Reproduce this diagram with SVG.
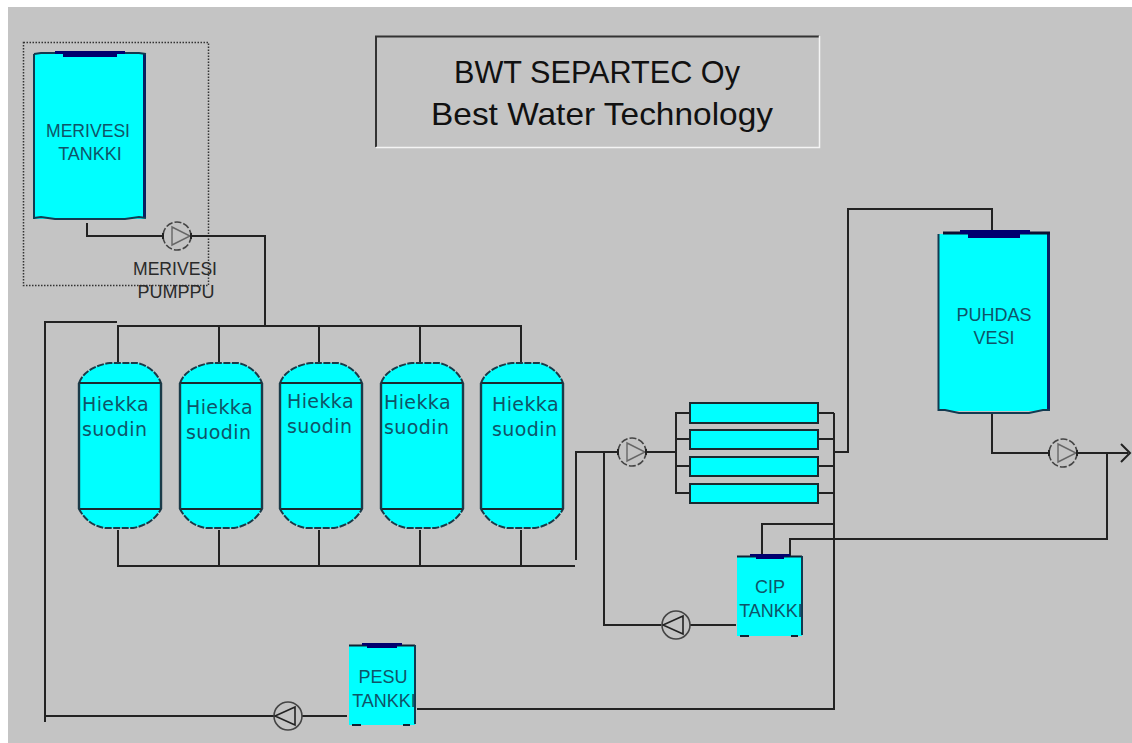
<svg xmlns="http://www.w3.org/2000/svg" xmlns:xlink="http://www.w3.org/1999/xlink" width="1132" height="743" viewBox="0 0 1132 743">
<style>
.bg{fill:#c4c4c4}
.pipe{fill:none;stroke:#222;stroke-width:2}
.tank{fill:#00ffff}
.wall{fill:none;stroke:#123a50;stroke-width:2}
.rw{fill:none;stroke:#0a1f60;stroke-width:3}
.cap{fill:#00006e}
.f{fill:#00ffff;stroke:#1a3a48;stroke-width:2}
.fl{fill:#00ffff;stroke:#1a2a30;stroke-width:2}
.t{font-family:"Liberation Sans",Arial,sans-serif;fill:#0f5468;font-size:18px;text-anchor:middle}
.h{font-family:"DejaVu Sans",Verdana,sans-serif;fill:#0f5468;font-size:19px;letter-spacing:.4px}
.d{font-family:"Liberation Sans",Arial,sans-serif;fill:#2a2a2a;font-size:18px;text-anchor:middle}
.title{font-family:"Liberation Sans",Arial,sans-serif;fill:#111;font-size:32px;text-anchor:middle}
.pc{fill:none;stroke:#444;stroke-width:1.6}
.pt{fill:none;stroke:#666;stroke-width:1.4}
.ptd{fill:none;stroke:#222;stroke-width:1.6}
</style>
<defs>
<g id="pr">
<circle class="pc" r="14" stroke-dasharray="7 2"/>
<path class="pt" d="M-5-9L13 0L-5 9Z"/>
<path d="M-14-3V3M14-3V3" stroke="#222" stroke-width="2"/>
</g>
<g id="pl">
<circle class="pc" r="14"/>
<path class="ptd" d="M7-9L-13 0L7 9Z"/>
</g>
<g id="filter">
<path class="f" stroke-dasharray="7 1.5" d="M0 20C4 9 16 2 31 0H58C68 2 78 9 82 20V146C76 157 66 163 54 165H26C14 163 6 157 0 146Z"/>
<path d="M0 20H82M0 146H82" stroke="#1a2a30" stroke-width="2"/>
<path d="M0 20V146M82 20V146" stroke="#1a3a48" stroke-width="2.4"/>
</g>
</defs>
<rect width="1132" height="743" fill="#fff"/>
<rect class="bg" x="8" y="7" width="1124" height="736"/>

<g id="title-box">
<path d="M376 147V36.500H819" fill="none" stroke="#333" stroke-width="2"/>
<path d="M819.500 36V147.500H376" fill="none" stroke="#f4f4f4" stroke-width="1.500"/>
<text class="title" x="597" y="83" textLength="286" lengthAdjust="spacingAndGlyphs">BWT SEPARTEC Oy</text>
<text class="title" x="602" y="125" textLength="342" lengthAdjust="spacingAndGlyphs">Best Water Technology</text>
</g>

<g id="selection-box">
<rect x="23.500" y="42.500" width="185" height="243" fill="none" stroke="#333" stroke-width="1.500" stroke-dasharray="1.500 1.500"/>
</g>

<g id="connectors">
<path class="pipe" d="M87 223V236H163M191 236H265V325"/>
<path class="pipe" d="M118 363V326H521V363M219 326V363M319 326V363M420 326V363"/>
<path class="pipe" d="M117 322H45V722"/>
<path class="pipe" d="M45 716H274M302 716H347"/>
<path class="pipe" d="M417 709H834V413"/>
<path class="pipe" d="M118 530V566H575M219 530V566M319 530V566M420 530V566M521 530V566"/>
<path class="pipe" d="M576 560V452H618M646 452H676"/>
<path class="pipe" d="M604 452V625H661M690 625H736"/>
<path class="pipe" d="M690 413H676V493H690M676 439H690M676 466H690"/>
<path class="pipe" d="M818 413H834M818 439H834M818 466H834M818 493H834"/>
<path class="pipe" d="M834 452H848V209H992V232"/>
<path class="pipe" d="M762 556V524H834"/>
<path class="pipe" d="M790 556V539H1107V453"/>
<path class="pipe" d="M992 414V453H1049M1077 453H1128"/>
<path class="pipe" d="M1121 444L1130 453L1121 462"/>
</g>

<g id="merivesi-tanki">
<rect class="tank" x="34" y="54" width="111" height="165"/>
<path class="wall" d="M34 219V54"/>
<path class="rw" d="M144.500 54V218"/>
<path class="wall" d="M34 218L41 217L55 219H125L139 217L146 218M34 54L41 53H139L146 54"/>
<path class="cap" d="M55 51H125V54H117V57H63V54H55Z"/>
<text class="t" x="88" y="137" textLength="84" lengthAdjust="spacingAndGlyphs">MERIVESI</text>
<text class="t" x="90" y="160">TANKKI</text>
</g>

<g id="merivesi-pumppu">
<use xlink:href="#pr" href="#pr" x="177" y="236"/>
<text class="d" x="175" y="275" textLength="84" lengthAdjust="spacingAndGlyphs">MERIVESI</text>
<text class="d" x="176" y="298">PUMPPU</text>
</g>

<g id="hiekka-1"><use xlink:href="#filter" href="#filter" x="79" y="363"/><text class="h" x="82" y="411">Hiekka</text><text class="h" x="82" y="436">suodin</text></g>
<g id="hiekka-2"><use xlink:href="#filter" href="#filter" x="180" y="363"/><text class="h" x="186" y="414">Hiekka</text><text class="h" x="186" y="439">suodin</text></g>
<g id="hiekka-3"><use xlink:href="#filter" href="#filter" x="280" y="363"/><text class="h" x="287" y="408">Hiekka</text><text class="h" x="287" y="433">suodin</text></g>
<g id="hiekka-4"><use xlink:href="#filter" href="#filter" x="381" y="363"/><text class="h" x="384" y="409">Hiekka</text><text class="h" x="384" y="434">suodin</text></g>
<g id="hiekka-5"><use xlink:href="#filter" href="#filter" x="481" y="363"/><text class="h" x="492" y="411">Hiekka</text><text class="h" x="492" y="436">suodin</text></g>

<g id="syotto-pumppu"><use xlink:href="#pr" href="#pr" x="632" y="452"/></g>

<g id="kalvot">
<rect class="fl" x="690" y="403" width="128" height="20"/>
<rect class="fl" x="690" y="430" width="128" height="19"/>
<rect class="fl" x="690" y="457" width="128" height="19"/>
<rect class="fl" x="690" y="484" width="128" height="19"/>
</g>

<g id="cip-tankki">
<rect class="tank" x="737" y="557" width="65" height="79"/>
<path d="M737 556.500H802" stroke="#123" stroke-width="2"/>
<path class="wall" d="M802 556V635"/>
<path class="cap" d="M750 554H790V556.500H784V559H756V556.500H750Z"/>
<path d="M740 636H749M791 636H798" stroke="#123" stroke-width="2"/>
<text class="t" x="770" y="593">CIP</text>
<text class="t" x="771" y="617">TANKKI</text>
</g>
<g id="cip-pumppu"><use xlink:href="#pl" href="#pl" x="676" y="625"/></g>

<g id="pesu-tankki">
<rect class="tank" x="349" y="646" width="66" height="79"/>
<path d="M349 645.500H415" stroke="#123" stroke-width="2"/>
<path class="wall" d="M415 645V724"/>
<path class="cap" d="M362 643H402V645.500H397V648H367V645.500H362Z"/>
<path d="M352 725H361M403 725H410" stroke="#123" stroke-width="2"/>
<text class="t" x="383" y="683">PESU</text>
<text class="t" x="384" y="707">TANKKI</text>
</g>
<g id="pesu-pumppu"><use xlink:href="#pl" href="#pl" x="288" y="716"/></g>

<g id="puhdas-vesi">
<rect class="tank" x="938" y="234" width="111" height="177"/>
<path class="wall" d="M938.500 234V411"/>
<path class="rw" d="M1048.500 234V411"/>
<path class="wall" d="M938 410L945 410L959 413H1029L1043 410L1050 410"/>
<path d="M943 233H1050" stroke="#0a1030" stroke-width="3"/>
<path class="cap" d="M960 230H1030V234H1020V238H968V234H960Z"/>
<text class="t" x="994" y="321">PUHDAS</text>
<text class="t" x="994" y="344">VESI</text>
</g>
<g id="puhdas-pumppu"><use xlink:href="#pr" href="#pr" x="1063" y="453"/></g>
</svg>
